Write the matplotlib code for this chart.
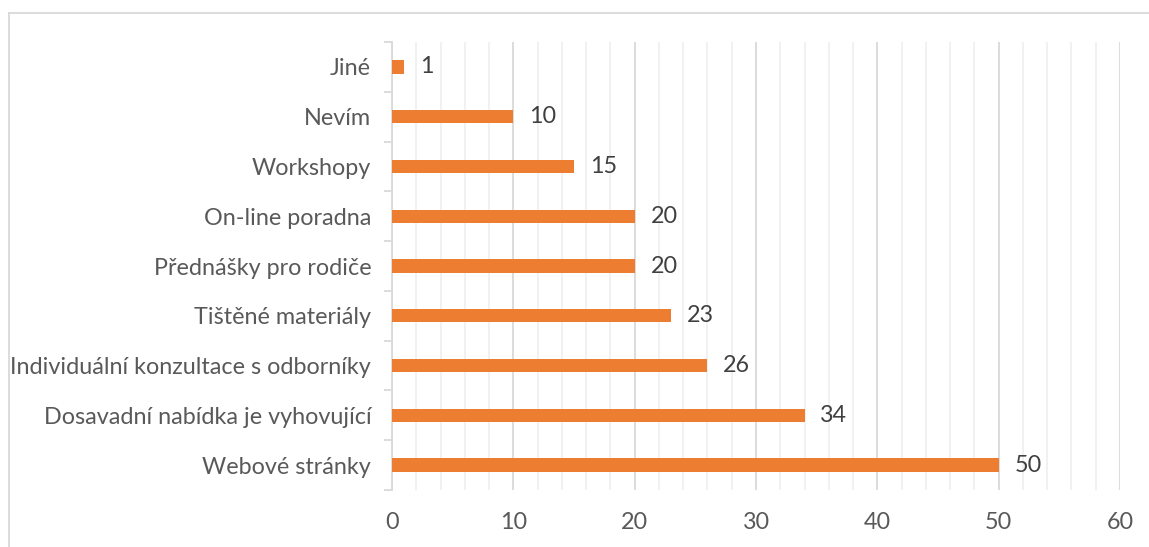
import matplotlib.pyplot as plt
from matplotlib.lines import Line2D
from matplotlib.ticker import MultipleLocator

categories = ["Webové stránky", "Dosavadní nabídka je vyhovující",
              "Individuální konzultace s odborníky", "Tištěné materiály",
              "Přednášky pro rodiče", "On-line poradna", "Workshopy",
              "Nevím", "Jiné"]
values = [50, 34, 26, 23, 20, 20, 15, 10, 1]
x_ticks = [0, 10, 20, 30, 40, 50, 60]

text_color = "#595959"
bar_color = "#ED7D31"
fs = 16.8

plt.rcParams['font.family'] = ['Lato', 'DejaVu Sans']

fig = plt.figure(figsize=(11.49, 5.47), dpi=100)
ax = fig.add_axes([392 / 1149, 1 - 490 / 547, (1120 - 392) / 1149, (490 - 42) / 547])

pos = list(range(len(categories)))
ax.barh(pos, values, height=0.27, color=bar_color, zorder=3)
for p, v in zip(pos, values):
    ax.text(v + 1.3, p, str(v), va="center", ha="left", fontsize=fs, color="#404040")

ax.set_xlim(0, 60)
ax.set_ylim(-0.5, len(categories) - 0.5)
ax.set_xticks(x_ticks)
ax.xaxis.set_minor_locator(MultipleLocator(2))
ax.grid(axis="x", which="major", color="#d9d9d9", linewidth=1.3, zorder=0)
ax.grid(axis="x", which="minor", color="#f0f0f0", linewidth=1.3, zorder=0)
ax.tick_params(axis="x", which="both", length=0, labelsize=fs, labelcolor=text_color, pad=16)

ax.set_yticks(pos)
ax.set_yticklabels(categories)
ax.set_yticks([p + 0.5 for p in [-1] + pos], minor=True)
ax.tick_params(axis="y", which="major", length=0, labelsize=fs, labelcolor=text_color, pad=15)
ax.tick_params(axis="y", which="minor", length=6, color="#d9d9d9", width=1.3)

for s in ["top", "right", "bottom"]:
    ax.spines[s].set_visible(False)
ax.spines["left"].set_color("#d9d9d9")
ax.spines["left"].set_linewidth(1.3)

# chart area border (cropped on right and bottom)
fig.add_artist(Line2D([8.5 / 1149, 1], [1 - 12.5 / 547] * 2, color="#d9d9d9", linewidth=1.3))
fig.add_artist(Line2D([8.5 / 1149] * 2, [0, 1 - 12.5 / 547], color="#d9d9d9", linewidth=1.3))

fig.savefig("out.png", dpi=100)
